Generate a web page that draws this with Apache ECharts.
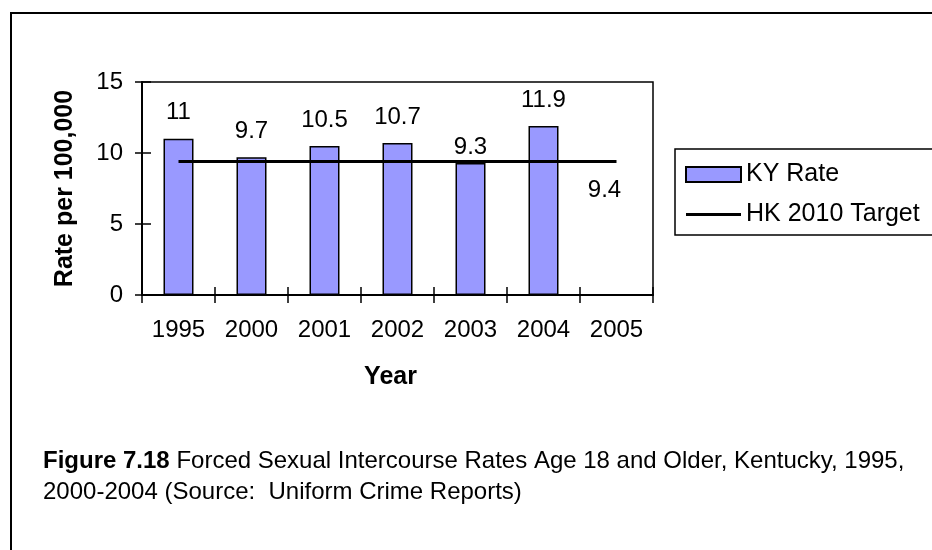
<!DOCTYPE html>
<html>
<head>
<meta charset="utf-8">
<script src="https://cdn.jsdelivr.net/npm/echarts@6/dist/echarts.min.js"></script>
<style>
html,body{margin:0;padding:0;background:#fff;}
#chart{width:932px;height:550px;}
</style>
</head>
<body>
<div id="chart"></div>
<script>
var years = ['1995', '2000', '2001', '2002', '2003', '2004', '2005'];
var kyRate = [11, 9.7, 10.5, 10.7, 9.3, 11.9, null];
var hkTarget = [9.4, 9.4, 9.4, 9.4, 9.4, 9.4, 9.4];
var yTicks = [0, 5, 10, 15];
var seriesNames = ['KY Rate', 'HK 2010 Target'];
var yTitle = 'Rate per 100,000';
var xTitle = 'Year';
var captionBold = 'Figure 7.18';
var captionLine1 = ' Forced Sexual Intercourse Rates Age 18 and Older, Kentucky, 1995,';
var captionLine2 = '2000-2004 (Source:  Uniform Crime Reports)';

var FONT = "'Liberation Sans', Arial, sans-serif";

var barData = kyRate.map(function (v, i) {
  var item = { value: v };
  if (i === 4) item.label = { distance: 4 };
  return item;
});
var lineData = hkTarget.map(function (v, i) {
  var item = { value: v };
  if (i === hkTarget.length - 1) {
    item.label = { show: true, position: 'bottom', distance: 17, offset: [-12, 0] };
  }
  return item;
});

var chart = echarts.init(document.getElementById('chart'), null, { renderer: 'canvas' });
chart.setOption({
  backgroundColor: '#ffffff',
  animation: false,
  textStyle: { fontFamily: FONT, color: '#000' },
  grid: {
    left: 142, top: 82, right: 279, bottom: 255,
    show: true, borderColor: '#000', borderWidth: 1.5, backgroundColor: 'transparent'
  },
  legend: {
    left: 675, top: 149,
    orient: 'vertical',
    padding: [13, 30, 8, 10],
    itemGap: 15,
    itemWidth: 55, itemHeight: 15,
    borderColor: '#000', borderWidth: 1.5,
    backgroundColor: '#fff',
    textStyle: { fontFamily: FONT, fontSize: 25, color: '#000' },
    data: [
      { name: seriesNames[0], icon: 'rect' },
      { name: seriesNames[1], icon: 'path://M0,0H55V3H0Z' }
    ]
  },
  xAxis: [{
    type: 'category',
    data: years,
    boundaryGap: true,
    axisLine: { lineStyle: { color: '#000', width: 2 } },
    axisTick: { show: true, length: 8, inside: false, lineStyle: { color: '#000', width: 1.5 } },
    axisLabel: { fontFamily: FONT, fontSize: 24, color: '#000', margin: 23 },
    name: xTitle,
    nameLocation: 'middle',
    nameGap: 70,
    nameTextStyle: { fontFamily: FONT, fontSize: 25, fontWeight: 'bold', color: '#000', padding: [0, 14, 0, 0] }
  }, {
    type: 'category',
    data: years,
    position: 'bottom',
    boundaryGap: true,
    axisLine: { show: false },
    axisTick: { show: true, length: 8, inside: true, lineStyle: { color: '#000', width: 1.5 } },
    axisLabel: { show: false }
  }],
  yAxis: [{
    type: 'value',
    min: yTicks[0], max: yTicks[yTicks.length - 1], interval: 5,
    splitLine: { show: false },
    axisLine: { show: true, lineStyle: { color: '#000', width: 2 } },
    axisTick: { show: true, length: 7, inside: false, lineStyle: { color: '#000', width: 1.5 } },
    axisLabel: { fontFamily: FONT, fontSize: 24, color: '#000', margin: 19 },
    name: yTitle,
    nameLocation: 'middle',
    nameGap: 64,
    nameRotate: 90,
    nameTextStyle: { fontFamily: FONT, fontSize: 25, fontWeight: 'bold', color: '#000' }
  }, {
    type: 'value',
    position: 'left',
    min: yTicks[0], max: yTicks[yTicks.length - 1], interval: 5,
    splitLine: { show: false },
    axisLine: { show: false },
    axisTick: { show: true, length: 9, inside: true, lineStyle: { color: '#000', width: 1.5 } },
    axisLabel: { show: false }
  }],
  series: [{
    name: seriesNames[0],
    type: 'bar',
    xAxisIndex: 0, yAxisIndex: 0,
    data: barData,
    barWidth: 30,
    itemStyle: { color: '#9999FF', borderColor: '#000', borderWidth: 1.5 },
    label: { show: true, position: 'top', distance: 14, fontFamily: FONT, fontSize: 24, color: '#000' }
  }, {
    name: seriesNames[1],
    type: 'line',
    xAxisIndex: 0, yAxisIndex: 0,
    data: lineData,
    symbol: 'circle',
    symbolSize: 0.01,
    itemStyle: { color: '#000' },
    lineStyle: { color: '#000', width: 3 },
    label: { show: false, fontFamily: FONT, fontSize: 24, color: '#000' },
    z: 3
  }],
  graphic: [{
    type: 'rect',
    shape: { x: 11, y: 13, width: 1000, height: 1000 },
    style: { fill: 'none', stroke: '#000', lineWidth: 2 },
    silent: true, z: 0
  }, {
    type: 'text',
    left: 43, top: 446,
    style: {
      text: '{b|' + captionBold + '}' + captionLine1 + '\n' + captionLine2,
      fontFamily: FONT, fontSize: 24, lineHeight: 31, fill: '#000',
      rich: { b: { fontFamily: FONT, fontSize: 24, fontWeight: 'bold', lineHeight: 31 } }
    }
  }]
});
</script>
</body>
</html>
